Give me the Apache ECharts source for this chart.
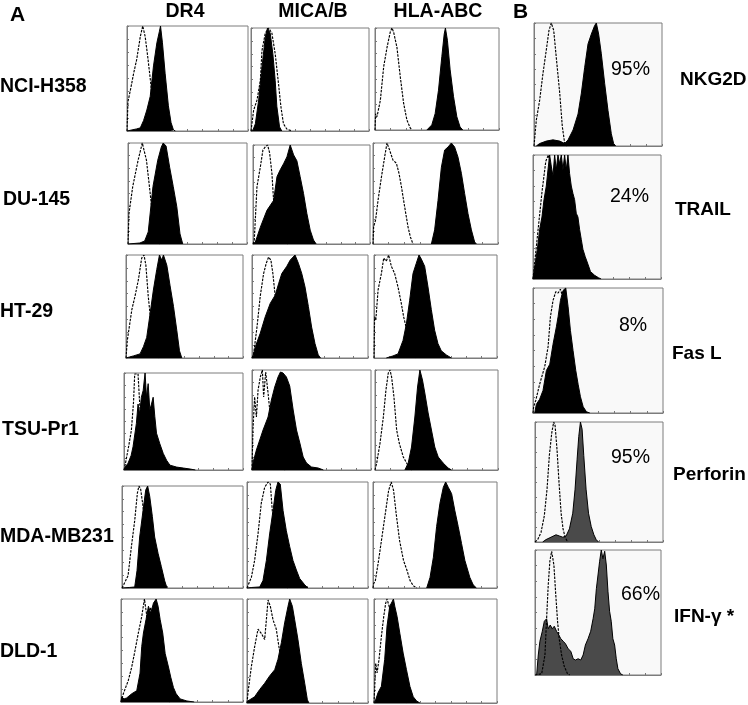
<!DOCTYPE html>
<html><head><meta charset="utf-8">
<script src="https://cdn.jsdelivr.net/npm/echarts/dist/echarts.min.js"></script>
<style>html,body{margin:0;padding:0;background:#fff}#c{width:748px;height:705px}</style>
</head><body><div id="c"></div>
<script>
// ---------- labels ----------
const rowLabels = ['NCI-H358','DU-145','HT-29','TSU-Pr1','MDA-MB231','DLD-1'];
const colLabels = ['DR4','MICA/B','HLA-ABC'];
const bLabels = ['NKG2D','TRAIL','Fas L','Perforin','IFN-γ *'];
const bPercents = ['95%','24%','8%','95%','66%'];

// ---------- data: [log-fluorescence (% of axis), counts (% of max)] ----------
const dr4Iso = [
 [[0,0],[0.8,28],[3,40],[5.5,55],[8,68],[11,90],[13,100],[15,90],[17,72],[19,52],[21,30],[23,12],[25,3],[28,0]],
 [[0,0],[0.8,30],[4,57],[8.5,83],[12,100],[15.5,83],[18,57],[20,35],[22,15],[24,4],[27,0]],
 [[0,0],[1.1,17],[5,47],[7.7,60],[10.6,76],[13.4,97],[15.4,100],[17,90],[19,60],[21,38],[23,18],[25,6],[28,0]],
 [[0,0],[1.4,8],[4,25],[6.2,41],[8,70],[9,99],[10.4,100],[11.8,99],[13.2,68],[15,45],[17,25],[19,12],[22,4],[26,0]],
 [[0,0],[1.4,1],[5,12],[7.7,40],[10.5,66],[12.7,93],[14,100],[15.4,97],[17.4,80],[19,55],[21,30],[23,12],[26,3],[30,0]],
 [[0,0],[1.9,8],[6,21],[8.8,34],[11.5,50],[14.2,67],[17,83],[19.2,100],[21.1,84],[22.5,76],[24.4,92],[26,75],[28,50],[30,30],[33,12],[36,4],[40,0]]
];
const dr4Ab = [
 [[0,0],[1.4,1],[8,2],[11,3],[13.7,10],[16.4,20],[19.2,33],[21.9,62],[24.7,84],[26.8,95],[27.7,100],[29.3,84],[31.5,55],[34.2,24],[36.4,8],[38.4,1],[40,0]],
 [[0,0],[10,1],[14,3],[17,12],[21,57],[25,83],[28,96],[29.6,100],[32,97],[35,76],[38,57],[41,37],[43.7,10],[46,0]],
 [[0,0],[3,1],[6.3,2],[12,4],[14.9,11],[17.7,20],[20.6,43],[23.4,66],[26.3,86],[28.6,100],[30.6,95],[32,100],[34.9,90],[37.7,70],[40.6,50],[43.4,27],[45.7,7],[47.7,0]],
 [[0,0],[1,3],[3.4,7],[6,15],[7.6,24],[10.4,48],[11.8,68],[13.2,58],[14.6,75],[16.1,82],[17.7,100],[18.9,75],[20.3,89],[21.7,62],[23.1,68],[24.5,75],[25.9,55],[27.3,38],[30.1,27],[33,17],[35.8,10],[38.6,5],[44.2,3],[49.9,2],[55.5,1],[60,0]],
 [[0,0],[6,0.5],[10.5,1],[12.4,17],[14.6,50],[17.4,76],[19.6,96],[21.2,100],[22.9,90],[25.1,70],[27,50],[29.8,34],[32.5,21],[35.3,7],[37.2,0]],
 [[0,0],[0.5,5],[2.5,3],[4.7,4],[8.8,8],[12.9,11],[15.6,28],[17,54],[18.4,67],[20.5,80],[22.5,93],[24.4,86],[26.6,96],[28.8,100],[30.4,93],[32.1,80],[34.2,67],[36.2,47],[38.9,34],[40.8,24],[43,14],[45.2,8],[48.5,3],[54,1],[60,0]]
];
const micaIso = [
 [[0,0],[0.8,1],[2.2,20],[5.1,30],[7.9,49],[9.3,78],[12.1,95],[14.9,100],[17.7,95],[20.5,75],[23.3,46],[25.3,24],[27.5,7],[30.3,2],[34.6,0]],
 [[0,0],[1.1,4],[3.4,58],[6.3,78],[8.5,95],[10.5,98],[12.5,100],[14.2,92],[16.2,71],[17.6,44],[20,25],[23,10],[26,3],[30,0]],
 [[0,0],[1.4,4],[4.3,30],[7.1,60],[10,82],[12.3,92],[14.3,98],[16.3,95],[18,82],[20,60],[22,40],[25,20],[28,6],[31,0]],
 [[0,0],[0.8,40],[2.2,73],[3.7,53],[5.1,80],[7,93],[8.7,100],[9.8,73],[11.5,98],[13.5,77],[14.9,60],[17,40],[19,20],[22,8],[25,2],[28,0]],
 [[0,0],[0.8,1],[3.6,10],[6.3,26],[9.1,51],[11.8,80],[14.6,95],[17.4,100],[19.3,98],[20.9,73],[23,50],[25,28],[28,10],[31,2],[34,0]],
 [[0,0],[0.8,10],[3.6,35],[6.3,54],[9.1,71],[11.8,67],[14.6,61],[17.4,99],[19.3,93],[21.5,80],[24.2,71],[26.4,54],[29,35],[32,18],[35,6],[38,0]]
];
const micaAb = [
 [[0,0],[1.7,1],[3.7,7],[6.5,30],[9.3,62],[12.1,91],[14,100],[16.3,95],[18.5,75],[20.5,49],[21.9,24],[24.2,4],[26.1,0]],
 [[0,0],[2,2],[6.3,17],[11.9,34],[17.6,44],[20.5,68],[23.3,75],[26.1,81],[29,88],[31.8,100],[34.7,90],[37.5,84],[40.3,68],[43.2,51],[46,31],[48.9,14],[51.7,4],[54,0]],
 [[0,0],[0.9,2],[2.9,11],[7.1,24],[11.4,40],[15.7,53],[20,61],[22.9,72],[25.7,82],[30,89],[32.9,95],[37.1,100],[40,92],[42.9,82],[45.7,69],[48.6,50],[51.4,30],[54.3,14],[57.1,3],[59.1,0]],
 [[0,0],[0.8,7],[3.7,20],[6.5,30],[9.3,40],[13.5,53],[16.3,70],[19.1,83],[21.9,93],[23.9,98],[25,100],[26.1,97],[28.9,93],[31.7,84],[34.6,60],[37.4,40],[40.2,27],[43,13],[45.8,7],[50,3],[55.6,2],[60,0]],
 [[0,0],[4,0.5],[10.5,1],[13.2,7],[16,26],[18.7,51],[21.5,73],[23.7,92],[25.6,100],[27.5,98],[29.8,73],[32.5,54],[35.3,39],[38,26],[40.8,17],[43.5,9],[47.7,3],[50.4,0]],
 [[0,0],[0.8,2],[6.3,6],[10.5,13],[14.6,19],[18.7,26],[22.9,32],[25.6,42],[28.4,58],[31.1,77],[33.9,93],[35.3,100],[37.5,93],[39.4,80],[42.1,61],[44.9,38],[47.7,19],[49.9,3],[51.2,0]]
];
const hlaIso = [
 [[0,0],[0.5,16],[1.6,13],[4.3,29],[7,62],[9.7,81],[12.3,96],[13.7,100],[15,96],[17.7,81],[20.4,52],[23.1,26],[25.7,10],[28.4,2],[29.8,0]],
 [[0,0],[0.5,17],[2.1,24],[4,43],[6.7,66],[9.3,86],[11.2,100],[13.3,93],[16,83],[18.7,80],[20.8,70],[22.7,57],[25.3,37],[28,17],[29.9,7],[32,0]],
 [[0,0],[0.5,40],[1.5,37],[3.3,66],[6,82],[7.9,97],[10,94],[11.9,100],[14.1,89],[16.8,82],[19.5,69],[22.2,53],[24.1,40],[25.5,33],[28,18],[31,6],[34,0]],
 [[0,0],[1.4,7],[4.1,27],[6.8,53],[8.9,80],[10.8,97],[12.2,100],[13.5,93],[15.4,73],[17.6,40],[19.7,27],[23,13],[25.7,7],[28.4,1],[30,0]],
 [[0,0],[0.5,4],[1.9,7],[4.5,26],[7.2,48],[9.9,70],[12.6,92],[14.7,100],[16.6,92],[18.7,70],[21.4,45],[24.6,26],[27.3,17],[29.9,7],[32.6,2],[35.3,0]],
 [[0,0],[0.5,13],[1.4,38],[2.5,29],[4.1,42],[6,64],[7.9,83],[9.5,96],[10.6,100],[12.3,93],[15,75],[18,50],[21,25],[24,8],[27,0]]
];
const hlaAb = [
 [[41.8,0],[45.8,5],[48.5,16],[51.2,39],[53.9,72],[55.8,94],[56.8,100],[58.4,88],[60.6,59],[63.3,33],[66,13],[68.6,3],[70.8,0]],
 [[46.7,0],[49.3,14],[52,43],[54.7,76],[57.3,93],[60,96],[62.7,100],[65.3,96],[68,86],[70.7,70],[73.3,50],[76,30],[78.7,14],[81.3,2],[82.7,0]],
 [[10,0],[12.7,1],[15.4,2],[19.5,4],[23.6,17],[26.3,33],[29,56],[31.7,82],[34.4,92],[36.6,100],[38.5,96],[41.2,89],[43.9,69],[46.6,47],[49.3,27],[52,14],[54.7,7],[58.8,3],[62.9,0]],
 [[24.3,0],[27,7],[29.7,23],[32.4,53],[34.6,83],[36.5,100],[38.6,90],[40.5,77],[43.2,57],[45.9,40],[48.6,23],[51.4,13],[55.4,7],[59.5,2],[62.2,0]],
 [[43.3,0],[46,10],[48.7,29],[51.3,58],[54,80],[56.7,95],[58.6,100],[60.7,95],[63.4,89],[66,73],[68.7,58],[71.4,42],[74.1,26],[78.1,10],[80.8,3],[83.4,0]],
 [[0.5,0],[3.3,10],[6,16],[8.7,42],[10.6,74],[12.8,93],[15,98],[15.8,100],[16.9,93],[18.8,83],[21,67],[23.7,48],[26.4,32],[29.2,16],[31.9,6],[34.6,2],[37.3,0]]
];
// Panel B: NKG2D, TRAIL, Fas L, Perforin, IFN-γ
const bIso = [
 [[0,0],[1.8,21],[4.4,37],[7,59],[9.6,78],[11.7,94],[13.5,100],[15.4,94],[17.4,72],[20.1,43],[22.1,16],[24,2],[25.8,0]],
 [[0,0],[1,10],[4,40],[7,70],[10,95],[12,100],[14,90],[17,60],[20,30],[24,10],[28,0]],
 [[0,0],[0.5,5],[2.1,10],[5.1,23],[9,37],[11.6,53],[13.4,77],[15.4,90],[17.5,97],[19.3,96],[21.1,99],[22.6,100],[23.7,90],[25.5,65],[27.5,35],[29.5,12],[32,0]],
 [[0,0],[2.1,2],[4.7,8],[7.3,22],[9.4,44],[11.2,72],[13.1,91],[14.6,100],[15.7,97],[17.2,77],[18.8,49],[20.4,24],[21.9,11],[23.5,4],[25.6,0]],
 [[0,0],[5.3,1],[7.9,16],[9.2,45],[10.5,72],[11.8,91],[13.2,99],[13.9,100],[15,88],[16.3,67],[17.9,43],[19.2,29],[21.1,16],[23.2,7],[25.8,1],[27.6,0]]
];
const bAb = [
 [[1.8,0],[4.4,2],[9.6,4],[14.8,5],[20.1,4],[24,2],[26.6,5],[30.5,13],[34.4,26],[37,43],[39.6,64],[42.2,83],[44.8,91],[47.4,98],[48.7,100],[50.5,91],[52.6,75],[55.2,51],[57.8,29],[60.4,10],[62.2,2],[63.8,0]],
 [[0,0],[0.8,0],[1.8,13],[3.4,24],[5.2,40],[7,50],[8.6,64],[10.4,75],[11.7,88],[13,100],[14.3,91],[15.6,83],[16.9,100],[18.2,88],[19.5,100],[20.8,93],[22.1,100],[23.4,88],[24.7,100],[26,88],[27.3,100],[28.6,85],[29.9,75],[31.2,69],[32.5,64],[33.8,53],[35.1,50],[36.4,40],[37.7,32],[39,24],[40.8,18],[42.9,12],[44.9,6],[48.1,3],[51.2,1],[53.2,0]],
 [[1.3,0],[2.6,7],[5.1,11],[7.7,18],[10.3,34],[12.9,39],[15.4,55],[18,69],[19.3,77],[21.1,90],[23.1,98],[25.2,100],[27,85],[28.8,66],[30.8,50],[32.9,34],[34.7,23],[36.5,13],[38.6,5],[41.1,1],[43.7,0]],
 [[6,0],[8.6,2],[12.5,4],[16.4,6],[19.1,5],[21.7,4],[24.3,5],[26.9,11],[29.5,24],[31.3,44],[32.9,69],[34.2,88],[35.5,100],[36.8,94],[38.1,72],[39.9,44],[41.8,24],[43.9,13],[46,6],[47.8,2],[49.6,0]],
 [[1.3,0],[2.6,16],[3.9,27],[5.8,35],[7.4,43],[9.2,45],[10.5,37],[12.1,40],[13.7,37],[15.3,39],[17.1,35],[18.9,32],[20.5,29],[22.4,27],[24.2,25],[26.3,21],[28.4,19],[30.3,13],[32.1,12],[34.2,13],[36.3,12],[38.2,16],[40,24],[42.1,29],[44.2,35],[46.1,45],[47.4,53],[48.7,69],[50,80],[51.3,91],[52.6,100],[53.9,93],[55.3,99],[56.6,88],[57.9,67],[59.2,51],[60.5,43],[61.8,29],[63.2,24],[64.5,13],[65.8,5],[67.9,1],[69.7,0]]
];

// ---------- layout (pixel boxes: left, top, right, bottom) ----------
const layoutA = [
 [[127,26,248,131],[251,28,369,131],[375,28,499,130]],
 [[128,143,247,244],[253,145,370,244],[373,143,498,244]],
 [[126,255,243,358],[252,255,368,358],[374,255,497,358]],
 [[124,373,243,470],[252,370,371,470],[375,370,498,470]],
 [[122,486,243,588],[247,482,368,588],[373,482,497,588]],
 [[121,599,243,702],[247,599,368,703],[374,599,497,703]]
];
const layoutB = [[534,23,662,146],[533,155,661,279],[533,288,663,413],[535,422,663,542],[535,550,661,675]];

const FONT = '"Liberation Sans", Arial, Helvetica, sans-serif';
const grids = [], xAxes = [], yAxes = [], series = [];
function addPanel(box, iso, ab, opts) {
  const i = grids.length;
  grids.push({left: box[0], top: box[1], width: box[2]-box[0], height: box[3]-box[1],
    show: true, borderColor: '#7c7c7c', borderWidth: 1, backgroundColor: opts.bg || '#fff'});
  const ax = {gridIndex: i, type: 'value', min: 0, max: 100, interval: 12.5,
    axisLine: {show: true, lineStyle: {color: '#7c7c7c', width: 1}},
    axisTick: {show: true, inside: true, length: 2, lineStyle: {color: '#777'}},
    axisLabel: {show: false}, splitLine: {show: false}};
  xAxes.push(Object.assign({}, ax));
  yAxes.push(Object.assign({}, ax));
  series.push({type: 'line', xAxisIndex: i, yAxisIndex: i, data: ab, symbol: 'none', z: 2,
    lineStyle: {color: '#000', width: 1}, areaStyle: {color: opts.fill || '#000', opacity: 1},
    silent: true, animation: false});
  series.push({type: 'line', xAxisIndex: i, yAxisIndex: i, data: iso, symbol: 'none', z: 3,
    lineStyle: {color: '#000', width: 1.15, type: [2.5, 1.2]}, silent: true, animation: false});
}
for (let r = 0; r < 6; r++) {
  addPanel(layoutA[r][0], dr4Iso[r], dr4Ab[r], {});
  addPanel(layoutA[r][1], micaIso[r], micaAb[r], {});
  addPanel(layoutA[r][2], hlaIso[r], hlaAb[r], {});
}
for (let k = 0; k < 5; k++) {
  addPanel(layoutB[k], bIso[k], bAb[k], {bg: '#f9f9f9', fill: k >= 3 ? '#4a4a4a' : '#000'});
}

// ---------- text ----------
const graphic = [];
function txt(t, x, y, size, weight, align) {
  graphic.push({type: 'text', x: x, y: y, silent: true,
    style: {text: t, fill: '#000', font: weight + ' ' + size + 'px ' + FONT,
      textAlign: align || 'left', textVerticalAlign: 'middle'}});
}
txt('A', 10, 15, 21, 'bold');
txt('B', 513, 12, 21, 'bold');
const colCenters = [185, 313, 438];
colLabels.forEach((c, j) => txt(c, colCenters[j], 12, 19.5, 'bold', 'center'));
const rowLabelPos = [[0, 87], [3, 200], [0, 312], [2, 430], [0, 537], [0, 652]];
rowLabels.forEach((c, j) => txt(c, rowLabelPos[j][0], rowLabelPos[j][1], 19.5, 'bold'));
const bLabelPos = [[680, 80], [675, 210], [672, 354], [673, 475], [674, 617]];
bLabels.forEach((c, j) => txt(c, bLabelPos[j][0], bLabelPos[j][1], 19, 'bold'));
const bPctPos = [[611, 70], [610, 197], [619, 326], [611, 458], [621, 595]];
bPercents.forEach((c, j) => txt(c, bPctPos[j][0], bPctPos[j][1], 19.5, 'normal'));

const chart = echarts.init(document.getElementById('c'));
chart.setOption({animation: false, backgroundColor: '#fff', grid: grids, xAxis: xAxes, yAxis: yAxes, series: series, graphic: graphic});
</script></body></html>
